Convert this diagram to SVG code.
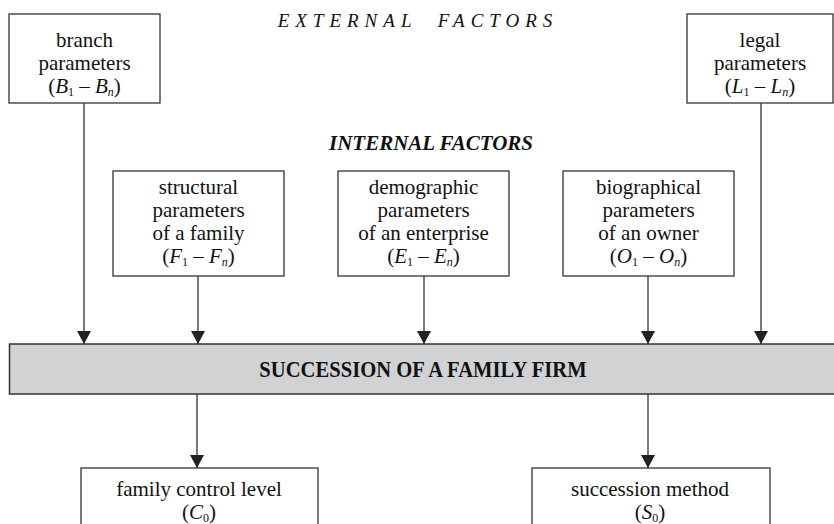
<svg xmlns="http://www.w3.org/2000/svg" width="834" height="524" viewBox="0 0 834 524">
<defs>
<marker id="ah" markerUnits="userSpaceOnUse" markerWidth="14" markerHeight="15" refX="13" refY="7" orient="auto">
<path d="M0,0 L13,7 L0,14 z" fill="#222"/>
</marker>
<style>
.box{fill:#fff;stroke:#333;stroke-width:1.3}
.bar{fill:#d1d2d4;stroke:#333;stroke-width:1.5}
.t{font-family:"Liberation Serif","Times New Roman",serif;font-size:21px;fill:#111;text-anchor:middle}
.i{font-style:italic}
.sub{font-size:12px}
.conn line{stroke:#333;stroke-width:1.3;marker-end:url(#ah)}
.head1{font-family:"Liberation Serif",serif;font-style:italic;font-size:19px;letter-spacing:6px;word-spacing:10px;fill:#111;text-anchor:middle}
.head2{font-family:"Liberation Serif",serif;font-style:italic;font-weight:bold;font-size:21px;fill:#111;text-anchor:middle}
.bart{font-family:"Liberation Serif",serif;font-weight:bold;font-size:24px;fill:#111;text-anchor:middle}
</style>
</defs>
<rect width="834" height="524" fill="#fff"/>
<text id="external" class="head1" x="418" y="27">EXTERNAL FACTORS</text>
<text id="internal" class="head2" x="431" y="150">INTERNAL FACTORS</text>

<g id="branch">
<rect class="box" x="9" y="14" width="151" height="89"/>
<text class="t" x="84.5" y="47">branch</text>
<text class="t" x="84.5" y="70">parameters</text>
<text class="t" x="84.5" y="93">(<tspan class="i">B</tspan><tspan class="sub" dy="3">1</tspan><tspan dy="-3"> – </tspan><tspan class="i">B</tspan><tspan class="sub i" dy="3">n</tspan><tspan dy="-3">)</tspan></text>
</g>
<g id="legal">
<rect class="box" x="687" y="14" width="146" height="89"/>
<text class="t" x="760" y="47">legal</text>
<text class="t" x="760" y="70">parameters</text>
<text class="t" x="760" y="93">(<tspan class="i">L</tspan><tspan class="sub" dy="3">1</tspan><tspan dy="-3"> – </tspan><tspan class="i">L</tspan><tspan class="sub i" dy="3">n</tspan><tspan dy="-3">)</tspan></text>
</g>
<g id="structural">
<rect class="box" x="113" y="171" width="171" height="105"/>
<text class="t" x="198.5" y="194">structural</text>
<text class="t" x="198.5" y="217">parameters</text>
<text class="t" x="198.5" y="240">of a family</text>
<text class="t" x="198.5" y="263">(<tspan class="i">F</tspan><tspan class="sub" dy="3">1</tspan><tspan dy="-3"> – </tspan><tspan class="i">F</tspan><tspan class="sub i" dy="3">n</tspan><tspan dy="-3">)</tspan></text>
</g>
<g id="demographic">
<rect class="box" x="338" y="171" width="171" height="105"/>
<text class="t" x="423.5" y="194">demographic</text>
<text class="t" x="423.5" y="217">parameters</text>
<text class="t" x="423.5" y="240">of an enterprise</text>
<text class="t" x="423.5" y="263">(<tspan class="i">E</tspan><tspan class="sub" dy="3">1</tspan><tspan dy="-3"> – </tspan><tspan class="i">E</tspan><tspan class="sub i" dy="3">n</tspan><tspan dy="-3">)</tspan></text>
</g>
<g id="biographical">
<rect class="box" x="563" y="171" width="171" height="105"/>
<text class="t" x="648.5" y="194">biographical</text>
<text class="t" x="648.5" y="217">parameters</text>
<text class="t" x="648.5" y="240">of an owner</text>
<text class="t" x="648.5" y="263">(<tspan class="i">O</tspan><tspan class="sub" dy="3">1</tspan><tspan dy="-3"> – </tspan><tspan class="i">O</tspan><tspan class="sub i" dy="3">n</tspan><tspan dy="-3">)</tspan></text>
</g>
<g id="succession">
<rect class="bar" x="9.5" y="344" width="826" height="50"/>
<text class="bart" transform="translate(423,377) scale(0.86,1)">SUCCESSION OF A FAMILY FIRM</text>
</g>
<g id="control">
<rect class="box" x="81" y="468" width="237" height="70"/>
<text class="t" x="199" y="495.5">family control level</text>
<text class="t" x="199" y="519">(<tspan class="i">C</tspan><tspan class="sub" dy="3">0</tspan><tspan dy="-3">)</tspan></text>
</g>
<g id="method">
<rect class="box" x="532" y="468" width="238" height="70"/>
<text class="t" x="650" y="495.5">succession method</text>
<text class="t" x="650" y="519">(<tspan class="i">S</tspan><tspan class="sub" dy="3">0</tspan><tspan dy="-3">)</tspan></text>
</g>
<g id="connectors" class="conn">
<line x1="84" y1="103" x2="84" y2="344"/>
<line x1="198" y1="276" x2="198" y2="344"/>
<line x1="424" y1="276" x2="424" y2="344"/>
<line x1="648" y1="276" x2="648" y2="344"/>
<line x1="761" y1="103" x2="761" y2="344"/>
<line x1="197" y1="394" x2="197" y2="468"/>
<line x1="648" y1="394" x2="648" y2="468"/>
</g>
</svg>
